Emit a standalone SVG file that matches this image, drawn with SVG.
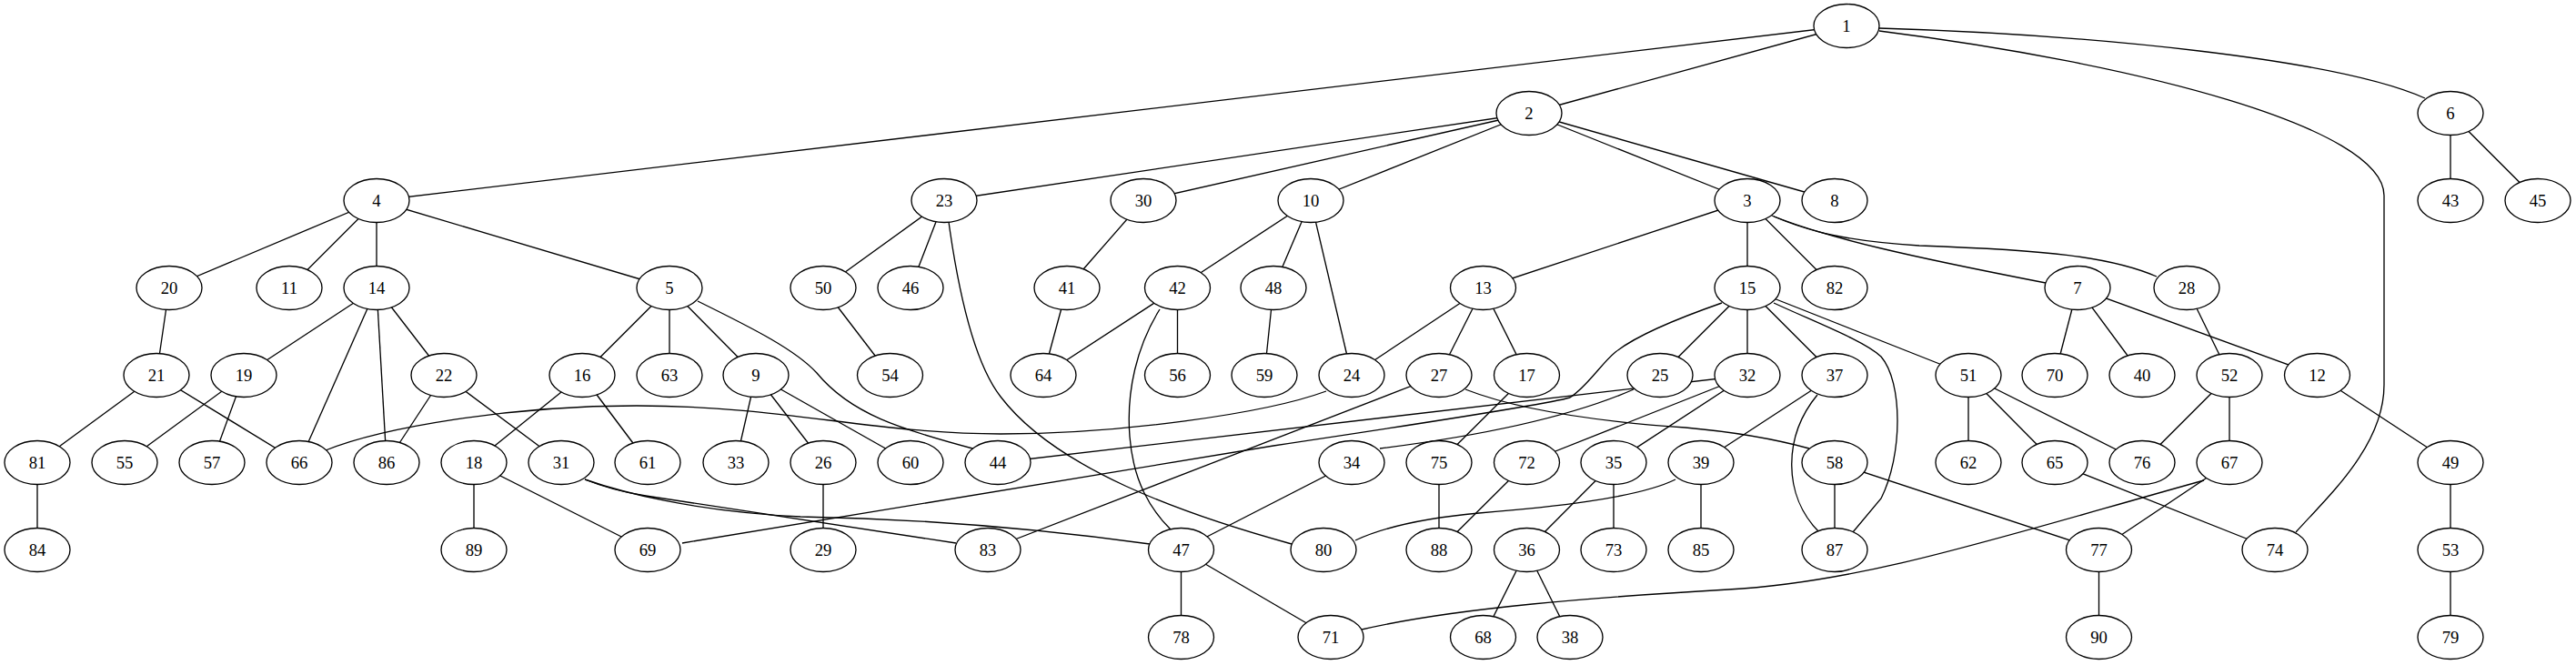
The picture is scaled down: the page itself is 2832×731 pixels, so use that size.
<svg xmlns="http://www.w3.org/2000/svg" width="2832" height="731" viewBox="0 0 2832 731">
<style>
.e path{fill:none;stroke:#000;stroke-width:1.33}
.n ellipse{fill:#fff;stroke:#000;stroke-width:1.33}
.n text{font-family:"Liberation Serif","Times New Roman",serif;font-size:18.67px;text-anchor:middle;fill:#000}
</style>
<rect width="2832" height="731" fill="#fff"/>
<g id="edges" class="e">
<path d="M2030,28.5L1681,124.5"/>
<path d="M2030,28.5L414,220.5"/>
<path d="M2066,31C2300,38 2570,65 2666,108"/>
<path d="M2066,34C2350,70 2621,140 2621,215L2621,423C2621,490 2560,545 2524,585"/>
<path d="M1681,124.5L1038,220.5"/>
<path d="M1681,124.5L1257,220.5"/>
<path d="M1681,124.5L1441,220.5"/>
<path d="M1681,124.5L1921,220.5"/>
<path d="M1681,124.5L2017,220.5"/>
<path d="M1921,220.5L1630.5,316.5"/>
<path d="M1921,220.5L1921,316.5"/>
<path d="M1921,220.5L2017,316.5"/>
<path d="M1948,237C2010,262 2100,282 2249,311"/>
<path d="M1950,238C1990,255 2030,265 2110,270C2250,275 2320,282 2371,304"/>
<path d="M414,220.5L186,316.5"/>
<path d="M414,220.5L318,316.5"/>
<path d="M414,220.5L414,316.5"/>
<path d="M414,220.5L736,316.5"/>
<path d="M736,316.5L640,412.5"/>
<path d="M736,316.5L736,412.5"/>
<path d="M736,316.5L831,412.5"/>
<path d="M767,331C830,362 875,385 898,410C935,455 990,472 1073,494"/>
<path d="M2694,124.5L2694,220.5"/>
<path d="M2694,124.5L2790,220.5"/>
<path d="M2284,316.5L2259,412.5"/>
<path d="M2284,316.5L2355,412.5"/>
<path d="M2284,316.5L2547.5,412.5"/>
<path d="M831,412.5L809,508.5"/>
<path d="M831,412.5L905,508.5"/>
<path d="M831,412.5L1001,508.5"/>
<path d="M1441,220.5L1294.5,316.5"/>
<path d="M1441,220.5L1400,316.5"/>
<path d="M1441,220.5L1486,412.5"/>
<path d="M2547.5,412.5L2694,508.5"/>
<path d="M1630.5,316.5L1486,412.5"/>
<path d="M1630.5,316.5L1582,412.5"/>
<path d="M1630.5,316.5L1678.5,412.5"/>
<path d="M414,316.5L268,412.5"/>
<path d="M414,316.5L329,508.5"/>
<path d="M414,316.5L425,508.5"/>
<path d="M414,316.5L488,412.5"/>
<path d="M1921,316.5L1825,412.5"/>
<path d="M1921,316.5L1921,412.5"/>
<path d="M1921,316.5L2017,412.5"/>
<path d="M1921,316.5L2164,412.5"/>
<path d="M1950,333C2000,356 2050,375 2068,392C2092,420 2092,500 2068,548L2037,585"/>
<path d="M1893,333C1850,348 1800,368 1776,387C1760,400 1745,425 1726,437C1700,445 1500,475 1400,490L750,597"/>
<path d="M640,412.5L521,508.5"/>
<path d="M640,412.5L712,508.5"/>
<path d="M1678.5,412.5L1582,508.5"/>
<path d="M521,508.5L521,604.5"/>
<path d="M521,508.5L712,604.5"/>
<path d="M268,412.5L137,508.5"/>
<path d="M268,412.5L233,508.5"/>
<path d="M186,316.5L172,412.5"/>
<path d="M172,412.5L41,508.5"/>
<path d="M172,412.5L329,508.5"/>
<path d="M488,412.5L425,508.5"/>
<path d="M488,412.5L617,508.5"/>
<path d="M1038,220.5L905,316.5"/>
<path d="M1038,220.5L1001,316.5"/>
<path d="M1043,244C1055,330 1072,400 1100,436C1160,515 1300,565 1420,598"/>
<path d="M358,495C420,470 560,446 700,446C860,446 960,477 1100,477C1230,477 1390,455 1458,430"/>
<path d="M1796,428Q1700,470 1517,493"/>
<path d="M905,508.5L905,604.5"/>
<path d="M1582,412.5L1086,604.5"/>
<path d="M1611,428C1680,455 1780,465 1853,470C1920,476 1960,485 1989,493"/>
<path d="M2404,316.5L2451,412.5"/>
<path d="M1257,220.5L1173,316.5"/>
<path d="M643,527C680,540 760,562 880,568C1000,570 1120,578 1264,598"/>
<path d="M643,527C665,536 690,542 710,545L1051,597"/>
<path d="M1921,412.5L1097,508.5"/>
<path d="M1921,412.5L1678.5,508.5"/>
<path d="M1921,412.5L1774,508.5"/>
<path d="M1486,508.5L1298.5,604.5"/>
<path d="M1774,508.5L1678.5,604.5"/>
<path d="M1774,508.5L1774,604.5"/>
<path d="M1678.5,604.5L1630.5,700.5"/>
<path d="M1678.5,604.5L1726,700.5"/>
<path d="M2017,412.5L1870,508.5"/>
<path d="M1998,434C1960,480 1960,545 2000,585"/>
<path d="M1842,527C1800,548 1700,558 1626,564C1560,570 1520,580 1490,594"/>
<path d="M1870,508.5L1870,604.5"/>
<path d="M1173,316.5L1147,412.5"/>
<path d="M1294.5,316.5L1147,412.5"/>
<path d="M1294.5,316.5L1294.5,412.5"/>
<path d="M1275,340C1250,380 1238,430 1242,480C1246,530 1265,560 1287,582"/>
<path d="M1298.5,604.5L1298.5,700.5"/>
<path d="M1298.5,604.5L1463,700.5"/>
<path d="M1400,316.5L1390,412.5"/>
<path d="M2694,508.5L2694,604.5"/>
<path d="M905,316.5L978.5,412.5"/>
<path d="M2164,412.5L2164,508.5"/>
<path d="M2164,412.5L2259,508.5"/>
<path d="M2164,412.5L2355,508.5"/>
<path d="M2451,412.5L2355,508.5"/>
<path d="M2451,412.5L2451,508.5"/>
<path d="M2694,604.5L2694,700.5"/>
<path d="M2017,508.5L2017,604.5"/>
<path d="M2017,508.5L2307.5,604.5"/>
<path d="M2259,508.5L2501,604.5"/>
<path d="M2451,508.5L2307.5,604.5"/>
<path d="M1497,692C1600,668 1760,656 1900,648C2050,640 2200,590 2423,528"/>
<path d="M1678.5,508.5L1582,604.5"/>
<path d="M1582,508.5L1582,604.5"/>
<path d="M2307.5,604.5L2307.5,700.5"/>
<path d="M41,508.5L41,604.5"/>
</g>
<g id="n1" class="n"><ellipse cx="2030" cy="28.5" rx="36" ry="24"/><text x="2030" y="34.5">1</text></g>
<g id="n2" class="n"><ellipse cx="1681" cy="124.5" rx="36" ry="24"/><text x="1681" y="130.5">2</text></g>
<g id="n6" class="n"><ellipse cx="2694" cy="124.5" rx="36" ry="24"/><text x="2694" y="130.5">6</text></g>
<g id="n4" class="n"><ellipse cx="414" cy="220.5" rx="36" ry="24"/><text x="414" y="226.5">4</text></g>
<g id="n23" class="n"><ellipse cx="1038" cy="220.5" rx="36" ry="24"/><text x="1038" y="226.5">23</text></g>
<g id="n30" class="n"><ellipse cx="1257" cy="220.5" rx="36" ry="24"/><text x="1257" y="226.5">30</text></g>
<g id="n10" class="n"><ellipse cx="1441" cy="220.5" rx="36" ry="24"/><text x="1441" y="226.5">10</text></g>
<g id="n3" class="n"><ellipse cx="1921" cy="220.5" rx="36" ry="24"/><text x="1921" y="226.5">3</text></g>
<g id="n8" class="n"><ellipse cx="2017" cy="220.5" rx="36" ry="24"/><text x="2017" y="226.5">8</text></g>
<g id="n43" class="n"><ellipse cx="2694" cy="220.5" rx="36" ry="24"/><text x="2694" y="226.5">43</text></g>
<g id="n45" class="n"><ellipse cx="2790" cy="220.5" rx="36" ry="24"/><text x="2790" y="226.5">45</text></g>
<g id="n20" class="n"><ellipse cx="186" cy="316.5" rx="36" ry="24"/><text x="186" y="322.5">20</text></g>
<g id="n11" class="n"><ellipse cx="318" cy="316.5" rx="36" ry="24"/><text x="318" y="322.5">11</text></g>
<g id="n14" class="n"><ellipse cx="414" cy="316.5" rx="36" ry="24"/><text x="414" y="322.5">14</text></g>
<g id="n5" class="n"><ellipse cx="736" cy="316.5" rx="36" ry="24"/><text x="736" y="322.5">5</text></g>
<g id="n50" class="n"><ellipse cx="905" cy="316.5" rx="36" ry="24"/><text x="905" y="322.5">50</text></g>
<g id="n46" class="n"><ellipse cx="1001" cy="316.5" rx="36" ry="24"/><text x="1001" y="322.5">46</text></g>
<g id="n41" class="n"><ellipse cx="1173" cy="316.5" rx="36" ry="24"/><text x="1173" y="322.5">41</text></g>
<g id="n42" class="n"><ellipse cx="1294.5" cy="316.5" rx="36" ry="24"/><text x="1294.5" y="322.5">42</text></g>
<g id="n48" class="n"><ellipse cx="1400" cy="316.5" rx="36" ry="24"/><text x="1400" y="322.5">48</text></g>
<g id="n13" class="n"><ellipse cx="1630.5" cy="316.5" rx="36" ry="24"/><text x="1630.5" y="322.5">13</text></g>
<g id="n15" class="n"><ellipse cx="1921" cy="316.5" rx="36" ry="24"/><text x="1921" y="322.5">15</text></g>
<g id="n82" class="n"><ellipse cx="2017" cy="316.5" rx="36" ry="24"/><text x="2017" y="322.5">82</text></g>
<g id="n7" class="n"><ellipse cx="2284" cy="316.5" rx="36" ry="24"/><text x="2284" y="322.5">7</text></g>
<g id="n28" class="n"><ellipse cx="2404" cy="316.5" rx="36" ry="24"/><text x="2404" y="322.5">28</text></g>
<g id="n21" class="n"><ellipse cx="172" cy="412.5" rx="36" ry="24"/><text x="172" y="418.5">21</text></g>
<g id="n19" class="n"><ellipse cx="268" cy="412.5" rx="36" ry="24"/><text x="268" y="418.5">19</text></g>
<g id="n22" class="n"><ellipse cx="488" cy="412.5" rx="36" ry="24"/><text x="488" y="418.5">22</text></g>
<g id="n16" class="n"><ellipse cx="640" cy="412.5" rx="36" ry="24"/><text x="640" y="418.5">16</text></g>
<g id="n63" class="n"><ellipse cx="736" cy="412.5" rx="36" ry="24"/><text x="736" y="418.5">63</text></g>
<g id="n9" class="n"><ellipse cx="831" cy="412.5" rx="36" ry="24"/><text x="831" y="418.5">9</text></g>
<g id="n54" class="n"><ellipse cx="978.5" cy="412.5" rx="36" ry="24"/><text x="978.5" y="418.5">54</text></g>
<g id="n64" class="n"><ellipse cx="1147" cy="412.5" rx="36" ry="24"/><text x="1147" y="418.5">64</text></g>
<g id="n56" class="n"><ellipse cx="1294.5" cy="412.5" rx="36" ry="24"/><text x="1294.5" y="418.5">56</text></g>
<g id="n59" class="n"><ellipse cx="1390" cy="412.5" rx="36" ry="24"/><text x="1390" y="418.5">59</text></g>
<g id="n24" class="n"><ellipse cx="1486" cy="412.5" rx="36" ry="24"/><text x="1486" y="418.5">24</text></g>
<g id="n27" class="n"><ellipse cx="1582" cy="412.5" rx="36" ry="24"/><text x="1582" y="418.5">27</text></g>
<g id="n17" class="n"><ellipse cx="1678.5" cy="412.5" rx="36" ry="24"/><text x="1678.5" y="418.5">17</text></g>
<g id="n25" class="n"><ellipse cx="1825" cy="412.5" rx="36" ry="24"/><text x="1825" y="418.5">25</text></g>
<g id="n32" class="n"><ellipse cx="1921" cy="412.5" rx="36" ry="24"/><text x="1921" y="418.5">32</text></g>
<g id="n37" class="n"><ellipse cx="2017" cy="412.5" rx="36" ry="24"/><text x="2017" y="418.5">37</text></g>
<g id="n51" class="n"><ellipse cx="2164" cy="412.5" rx="36" ry="24"/><text x="2164" y="418.5">51</text></g>
<g id="n70" class="n"><ellipse cx="2259" cy="412.5" rx="36" ry="24"/><text x="2259" y="418.5">70</text></g>
<g id="n40" class="n"><ellipse cx="2355" cy="412.5" rx="36" ry="24"/><text x="2355" y="418.5">40</text></g>
<g id="n52" class="n"><ellipse cx="2451" cy="412.5" rx="36" ry="24"/><text x="2451" y="418.5">52</text></g>
<g id="n12" class="n"><ellipse cx="2547.5" cy="412.5" rx="36" ry="24"/><text x="2547.5" y="418.5">12</text></g>
<g id="n81" class="n"><ellipse cx="41" cy="508.5" rx="36" ry="24"/><text x="41" y="514.5">81</text></g>
<g id="n55" class="n"><ellipse cx="137" cy="508.5" rx="36" ry="24"/><text x="137" y="514.5">55</text></g>
<g id="n57" class="n"><ellipse cx="233" cy="508.5" rx="36" ry="24"/><text x="233" y="514.5">57</text></g>
<g id="n66" class="n"><ellipse cx="329" cy="508.5" rx="36" ry="24"/><text x="329" y="514.5">66</text></g>
<g id="n86" class="n"><ellipse cx="425" cy="508.5" rx="36" ry="24"/><text x="425" y="514.5">86</text></g>
<g id="n18" class="n"><ellipse cx="521" cy="508.5" rx="36" ry="24"/><text x="521" y="514.5">18</text></g>
<g id="n31" class="n"><ellipse cx="617" cy="508.5" rx="36" ry="24"/><text x="617" y="514.5">31</text></g>
<g id="n61" class="n"><ellipse cx="712" cy="508.5" rx="36" ry="24"/><text x="712" y="514.5">61</text></g>
<g id="n33" class="n"><ellipse cx="809" cy="508.5" rx="36" ry="24"/><text x="809" y="514.5">33</text></g>
<g id="n26" class="n"><ellipse cx="905" cy="508.5" rx="36" ry="24"/><text x="905" y="514.5">26</text></g>
<g id="n60" class="n"><ellipse cx="1001" cy="508.5" rx="36" ry="24"/><text x="1001" y="514.5">60</text></g>
<g id="n44" class="n"><ellipse cx="1097" cy="508.5" rx="36" ry="24"/><text x="1097" y="514.5">44</text></g>
<g id="n34" class="n"><ellipse cx="1486" cy="508.5" rx="36" ry="24"/><text x="1486" y="514.5">34</text></g>
<g id="n75" class="n"><ellipse cx="1582" cy="508.5" rx="36" ry="24"/><text x="1582" y="514.5">75</text></g>
<g id="n72" class="n"><ellipse cx="1678.5" cy="508.5" rx="36" ry="24"/><text x="1678.5" y="514.5">72</text></g>
<g id="n35" class="n"><ellipse cx="1774" cy="508.5" rx="36" ry="24"/><text x="1774" y="514.5">35</text></g>
<g id="n39" class="n"><ellipse cx="1870" cy="508.5" rx="36" ry="24"/><text x="1870" y="514.5">39</text></g>
<g id="n58" class="n"><ellipse cx="2017" cy="508.5" rx="36" ry="24"/><text x="2017" y="514.5">58</text></g>
<g id="n62" class="n"><ellipse cx="2164" cy="508.5" rx="36" ry="24"/><text x="2164" y="514.5">62</text></g>
<g id="n65" class="n"><ellipse cx="2259" cy="508.5" rx="36" ry="24"/><text x="2259" y="514.5">65</text></g>
<g id="n76" class="n"><ellipse cx="2355" cy="508.5" rx="36" ry="24"/><text x="2355" y="514.5">76</text></g>
<g id="n67" class="n"><ellipse cx="2451" cy="508.5" rx="36" ry="24"/><text x="2451" y="514.5">67</text></g>
<g id="n49" class="n"><ellipse cx="2694" cy="508.5" rx="36" ry="24"/><text x="2694" y="514.5">49</text></g>
<g id="n84" class="n"><ellipse cx="41" cy="604.5" rx="36" ry="24"/><text x="41" y="610.5">84</text></g>
<g id="n89" class="n"><ellipse cx="521" cy="604.5" rx="36" ry="24"/><text x="521" y="610.5">89</text></g>
<g id="n69" class="n"><ellipse cx="712" cy="604.5" rx="36" ry="24"/><text x="712" y="610.5">69</text></g>
<g id="n29" class="n"><ellipse cx="905" cy="604.5" rx="36" ry="24"/><text x="905" y="610.5">29</text></g>
<g id="n83" class="n"><ellipse cx="1086" cy="604.5" rx="36" ry="24"/><text x="1086" y="610.5">83</text></g>
<g id="n47" class="n"><ellipse cx="1298.5" cy="604.5" rx="36" ry="24"/><text x="1298.5" y="610.5">47</text></g>
<g id="n80" class="n"><ellipse cx="1455" cy="604.5" rx="36" ry="24"/><text x="1455" y="610.5">80</text></g>
<g id="n88" class="n"><ellipse cx="1582" cy="604.5" rx="36" ry="24"/><text x="1582" y="610.5">88</text></g>
<g id="n36" class="n"><ellipse cx="1678.5" cy="604.5" rx="36" ry="24"/><text x="1678.5" y="610.5">36</text></g>
<g id="n73" class="n"><ellipse cx="1774" cy="604.5" rx="36" ry="24"/><text x="1774" y="610.5">73</text></g>
<g id="n85" class="n"><ellipse cx="1870" cy="604.5" rx="36" ry="24"/><text x="1870" y="610.5">85</text></g>
<g id="n87" class="n"><ellipse cx="2017" cy="604.5" rx="36" ry="24"/><text x="2017" y="610.5">87</text></g>
<g id="n77" class="n"><ellipse cx="2307.5" cy="604.5" rx="36" ry="24"/><text x="2307.5" y="610.5">77</text></g>
<g id="n74" class="n"><ellipse cx="2501" cy="604.5" rx="36" ry="24"/><text x="2501" y="610.5">74</text></g>
<g id="n53" class="n"><ellipse cx="2694" cy="604.5" rx="36" ry="24"/><text x="2694" y="610.5">53</text></g>
<g id="n78" class="n"><ellipse cx="1298.5" cy="700.5" rx="36" ry="24"/><text x="1298.5" y="706.5">78</text></g>
<g id="n71" class="n"><ellipse cx="1463" cy="700.5" rx="36" ry="24"/><text x="1463" y="706.5">71</text></g>
<g id="n68" class="n"><ellipse cx="1630.5" cy="700.5" rx="36" ry="24"/><text x="1630.5" y="706.5">68</text></g>
<g id="n38" class="n"><ellipse cx="1726" cy="700.5" rx="36" ry="24"/><text x="1726" y="706.5">38</text></g>
<g id="n90" class="n"><ellipse cx="2307.5" cy="700.5" rx="36" ry="24"/><text x="2307.5" y="706.5">90</text></g>
<g id="n79" class="n"><ellipse cx="2694" cy="700.5" rx="36" ry="24"/><text x="2694" y="706.5">79</text></g>
</svg>
